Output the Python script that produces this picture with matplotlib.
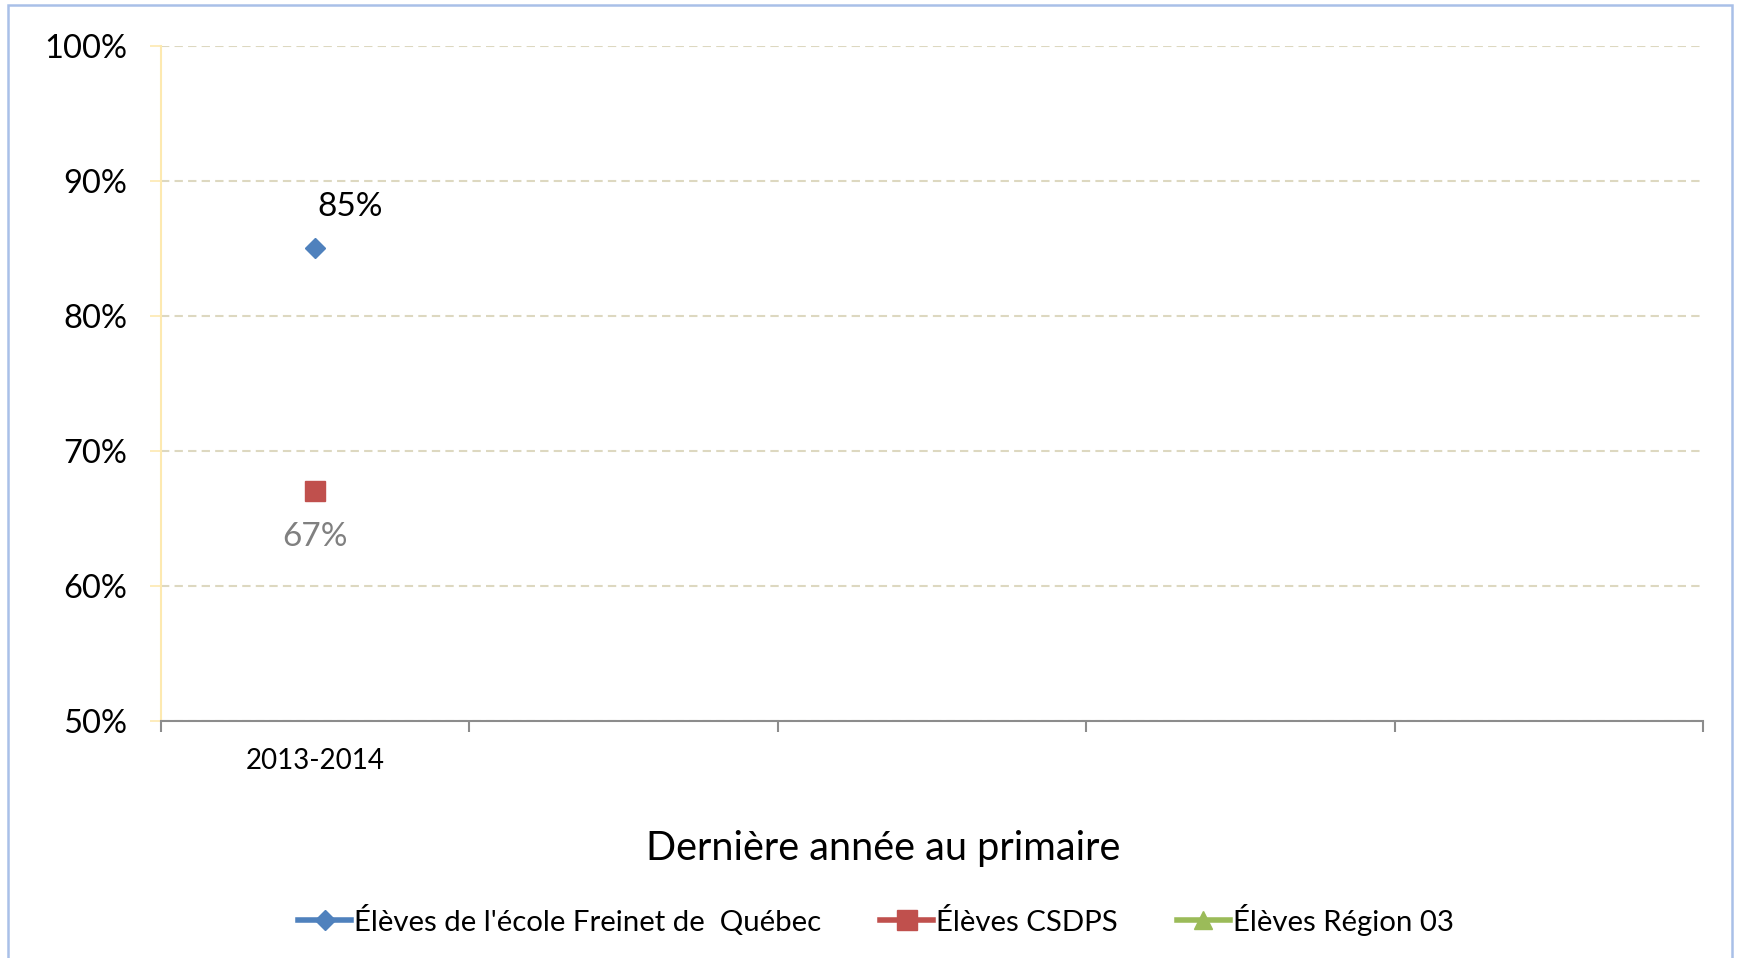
import numpy as np
import matplotlib
matplotlib.use("Agg")
import matplotlib.pyplot as plt
from matplotlib.patches import Rectangle

# Données
categories = ['2013-2014', '', '', '', '']
freinet = [85, np.nan, np.nan, np.nan, np.nan]
csdps = [67, np.nan, np.nan, np.nan, np.nan]
region03 = [np.nan, np.nan, np.nan, np.nan, np.nan]
series_names = ["Élèves de l'école Freinet de  Québec", 'Élèves CSDPS', 'Élèves Région 03']
y_ticks = [50, 60, 70, 80, 90, 100]

plt.rcParams['font.family'] = ['Lato', 'DejaVu Sans']

fig = plt.figure(figsize=(17.38, 9.58), dpi=100)
ax = fig.add_axes([0.0926, 0.2477, 0.8873, 0.7046])

x = np.arange(len(categories))
l1, = ax.plot(x, freinet, color='#4f81bd', marker='D', markersize=10.5, linewidth=4, label=series_names[0])
l2, = ax.plot(x, csdps, color='#c0504d', marker='s', markersize=15, linewidth=4, label=series_names[1])
l3, = ax.plot(x, region03, color='#9bbb59', marker='^', markersize=13, linewidth=4, label=series_names[2])

# Étiquettes de données
ax.annotate(f'{freinet[0]:.0f}%', (x[0], freinet[0]), xytext=(25, 30), textcoords='offset points',
            ha='center', va='center', fontsize=24, color='black')
ax.annotate(f'{csdps[0]:.0f}%', (x[0], csdps[0]), xytext=(0, -33), textcoords='offset points',
            ha='center', va='center', fontsize=24, color='#808080')

ax.set_xlim(-0.5, len(categories) - 0.5)
ax.set_ylim(50, 100)
ax.set_yticks(y_ticks)
ax.set_yticklabels([f'{v}%' for v in y_ticks], fontsize=23.5)
ax.tick_params(axis='y', length=8, width=1.2, color='#fde9b0', pad=16)

ax.set_xticks(np.arange(len(categories) + 1) - 0.5)
ax.set_xticklabels([])
ax.set_xticks(x, minor=True)
ax.set_xticklabels(categories, minor=True, fontsize=20)
ax.tick_params(axis='x', which='major', length=8, width=1.5, color='#8c8c8c')
ax.tick_params(axis='x', which='minor', length=0, pad=20)

ax.grid(axis='y', color='#ddd8c0', linestyle=(0, (4, 2.5)), linewidth=1.5)
ax.set_axisbelow(True)
for s in ['top', 'right']:
    ax.spines[s].set_visible(False)
ax.spines['left'].set_color('#fde9b0')
ax.spines['left'].set_linewidth(1.5)
ax.spines['bottom'].set_color('#8c8c8c')
ax.spines['bottom'].set_linewidth(1.5)

fig.text(0.508, 0.1145, 'Dernière année au primaire', ha='center', va='center', fontsize=28.5)

fig.legend(handles=[l1, l2, l3], loc='center', bbox_to_anchor=(0.504, 0.040), ncol=3,
           frameon=False, fontsize=21.2, handlelength=1.8, handletextpad=0.1, columnspacing=2.0)

# Cadre extérieur
fig.patches.append(Rectangle((8 / 1738, -0.01), (1732 - 8) / 1738, 1 - 5 / 958 + 0.01,
                             transform=fig.transFigure, fill=False, edgecolor='#a9c0e8', linewidth=1.8))

fig.savefig('out.png', dpi=100)
